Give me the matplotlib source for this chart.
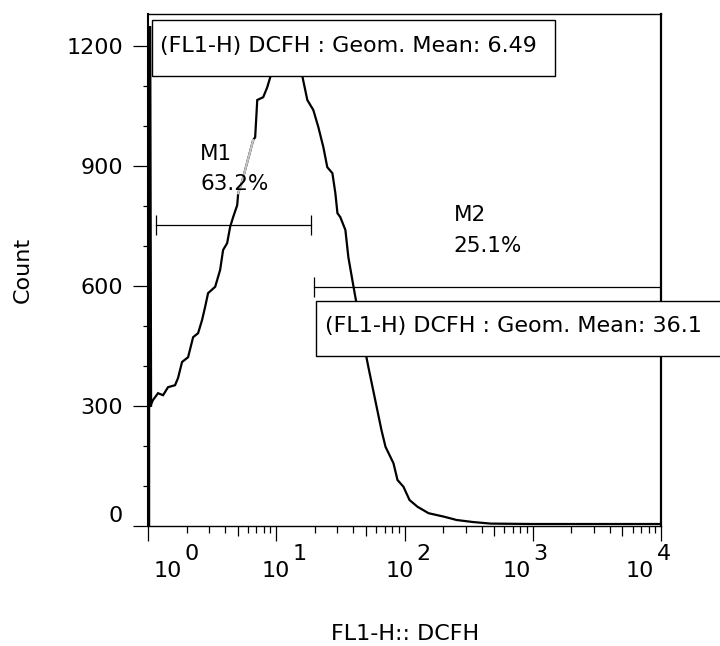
import numpy as np
import matplotlib
matplotlib.use("Agg")
from matplotlib import pyplot as plt
from matplotlib.patches import Rectangle
from matplotlib.ticker import LogLocator, NullFormatter, NullLocator

plt.rcParams['font.family'] = ['DejaVu Sans']

# histogram trace (FL1-H channel value, count)
fl1 = [1.02, 1.02, 1.036, 1.094, 1.197, 1.31, 1.433, 1.625, 1.715, 1.843, 2.054, 2.248,
       2.458, 2.64, 2.79, 2.94, 3.34, 3.65, 3.85, 4.14, 4.37, 4.61, 4.96, 5.05, 5.4,
       6.61, 6.85, 7.11, 7.91, 8.51, 8.98, 10.0, 11.5, 13.0, 14.5, 15.96, 17.47,
       19.45, 21.3, 23.3, 25.0, 27.4, 28.9, 30.0, 31.6, 34.6, 36.5, 39.2, 41.4,
       45.0, 48.5, 52.3, 66.1, 71.1, 82.0, 88.2, 98.2, 109.4, 126.4, 154, 205,
       255, 340, 470, 1000, 10000]
count = [0, 1250, 298, 315, 332, 327, 347, 352, 370, 410, 422, 472,
         482, 515, 548, 582, 598, 640, 690, 707, 748, 772, 802, 832, 860,
         965, 972, 1065, 1072, 1097, 1122, 1180, 1220, 1200, 1160, 1125, 1065,
         1040, 997, 947, 897, 882, 832, 782, 772, 740, 672, 615, 572,
         510, 450, 397, 240, 198, 157, 115, 98, 65, 48, 32, 23,
         15, 10, 6, 5, 5]

# markers
gate_names = ['M1', 'M2']
gate_pcts = ['63.2%', '25.1%']
gate_lo = [1.15, 19.8]
gate_hi = [18.8, 10000]
gate_level = [752, 597]

geom_means = ['6.49', '36.1']
y_ticks = [0, 300, 600, 900, 1200]
decades = [0, 1, 2, 3, 4]

FS = 16
W, H = 720, 646
fig = plt.figure(figsize=(W / 100, H / 100), dpi=100)
ax = fig.add_axes([148 / W, 1 - 526 / H, 513 / W, 512 / H])

ax.plot(fl1, count, color='black', lw=1.6, solid_joinstyle='miter', zorder=3)
# first channel piles up against the axis
ax.plot(fl1[1:3], count[1:3], color='black', lw=3.2, solid_capstyle='butt', zorder=3)
# part of the trace that shows lighter under the M1 label
seg = [i for i, v in enumerate(fl1) if 5.0 < v < 6.7]
ax.plot(fl1[seg[0]:seg[-1] + 1], count[seg[0]:seg[-1] + 1], color='#c4c4c4', lw=1.6, zorder=4)

ax.set_xscale('log')
ax.set_xlim(1, 1e4)
ax.set_ylim(0, 1280)

for s, lw in (('left', 1.5), ('right', 1.6), ('top', 1.0), ('bottom', 1.0)):
    ax.spines[s].set_linewidth(lw)

# y axis
ax.set_yticks(y_ticks)
ax.set_yticklabels([''] + [str(v) for v in y_ticks[1:]])
ax.set_yticks(np.arange(0, 1300, 100), minor=True)
ax.tick_params(axis='y', which='major', length=10.8, width=0.9, pad=7, labelsize=FS,
               colors='black')
ax.tick_params(axis='y', which='minor', length=3.9, width=0.9)
ax.text(-25 / 513, 0, '0', transform=ax.transAxes, ha='right', va='bottom', fontsize=FS)

# x axis
ax.xaxis.set_major_locator(LogLocator(base=10, numticks=10))
ax.xaxis.set_minor_locator(LogLocator(base=10, subs=[2, 3, 4, 6, 7, 8, 9], numticks=20))
ax.xaxis.set_major_formatter(NullFormatter())
ax.xaxis.set_minor_formatter(NullFormatter())
ax.tick_params(axis='x', which='major', length=10.8, width=0.9)
ax.tick_params(axis='x', which='minor', length=5.0, width=0.9)
sec = ax.secondary_xaxis('bottom')
sec.set_xticks([5 * 10 ** k for k in decades[:-1]])
sec.xaxis.set_minor_locator(NullLocator())
sec.tick_params(length=7.2, width=0.9, labelbottom=False)
sec.spines['bottom'].set_visible(False)

# decade labels: "10" with a full-size raised exponent
lab_dx = [34, 14, 9, -2, -7]
for k, dx in zip(decades, lab_dx):
    ax.annotate('10', xy=(10 ** k, 0), xycoords=('data', 'axes fraction'),
                xytext=(dx * 0.72, -51 * 0.72), textcoords='offset points',
                ha='right', va='baseline', fontsize=FS)
    ax.annotate(str(k), xy=(10 ** k, 0), xycoords=('data', 'axes fraction'),
                xytext=((dx + 2.5) * 0.72, -34 * 0.72), textcoords='offset points',
                ha='left', va='baseline', fontsize=FS)

# gates
for lo, hi, lev in zip(gate_lo, gate_hi, gate_level):
    ax.plot([lo, hi], [lev, lev], color='black', lw=0.9, zorder=2)
    ax.plot([lo], [lev], marker='|', ms=15, mew=0.9, color='black', zorder=2)
    if hi < 1e4:
        ax.plot([hi], [lev], marker='|', ms=15, mew=0.9, color='black', zorder=2)

lab_pos = [(2.55, 930), (241, 777)]
for name, pct, (lx, ly) in zip(gate_names, gate_pcts, lab_pos):
    ax.text(lx, ly, name, ha='left', va='center', fontsize=15.5, zorder=5)
    ax.text(lx, ly - 76, pct, ha='left', va='center', fontsize=15.5, zorder=5)

# geometric mean boxes (figure pixel layout)
boxes = [(152, 20, 403, 56), (316, 301, 420, 55)]
text_xy = [(160, 46), (325, 326)]
for (bx, by, bw, bh), (tx, ty), gm in zip(boxes, text_xy, geom_means):
    fig.add_artist(Rectangle((bx / W, 1 - (by + bh) / H), bw / W, bh / H,
                             transform=fig.transFigure, facecolor='white',
                             edgecolor='black', lw=1.0, zorder=5))
    fig.text(tx / W, 1 - ty / H, '(FL1-H) DCFH : Geom. Mean: ' + gm,
             ha='left', va='center', fontsize=FS, zorder=6)

fig.text(23 / W, 1 - 270 / H, 'Count', rotation=90, ha='center', va='center', fontsize=FS)
fig.text(405 / W, 1 - 634 / H, 'FL1-H:: DCFH', ha='center', va='center', fontsize=FS)

fig.savefig('out.png', dpi=100)
